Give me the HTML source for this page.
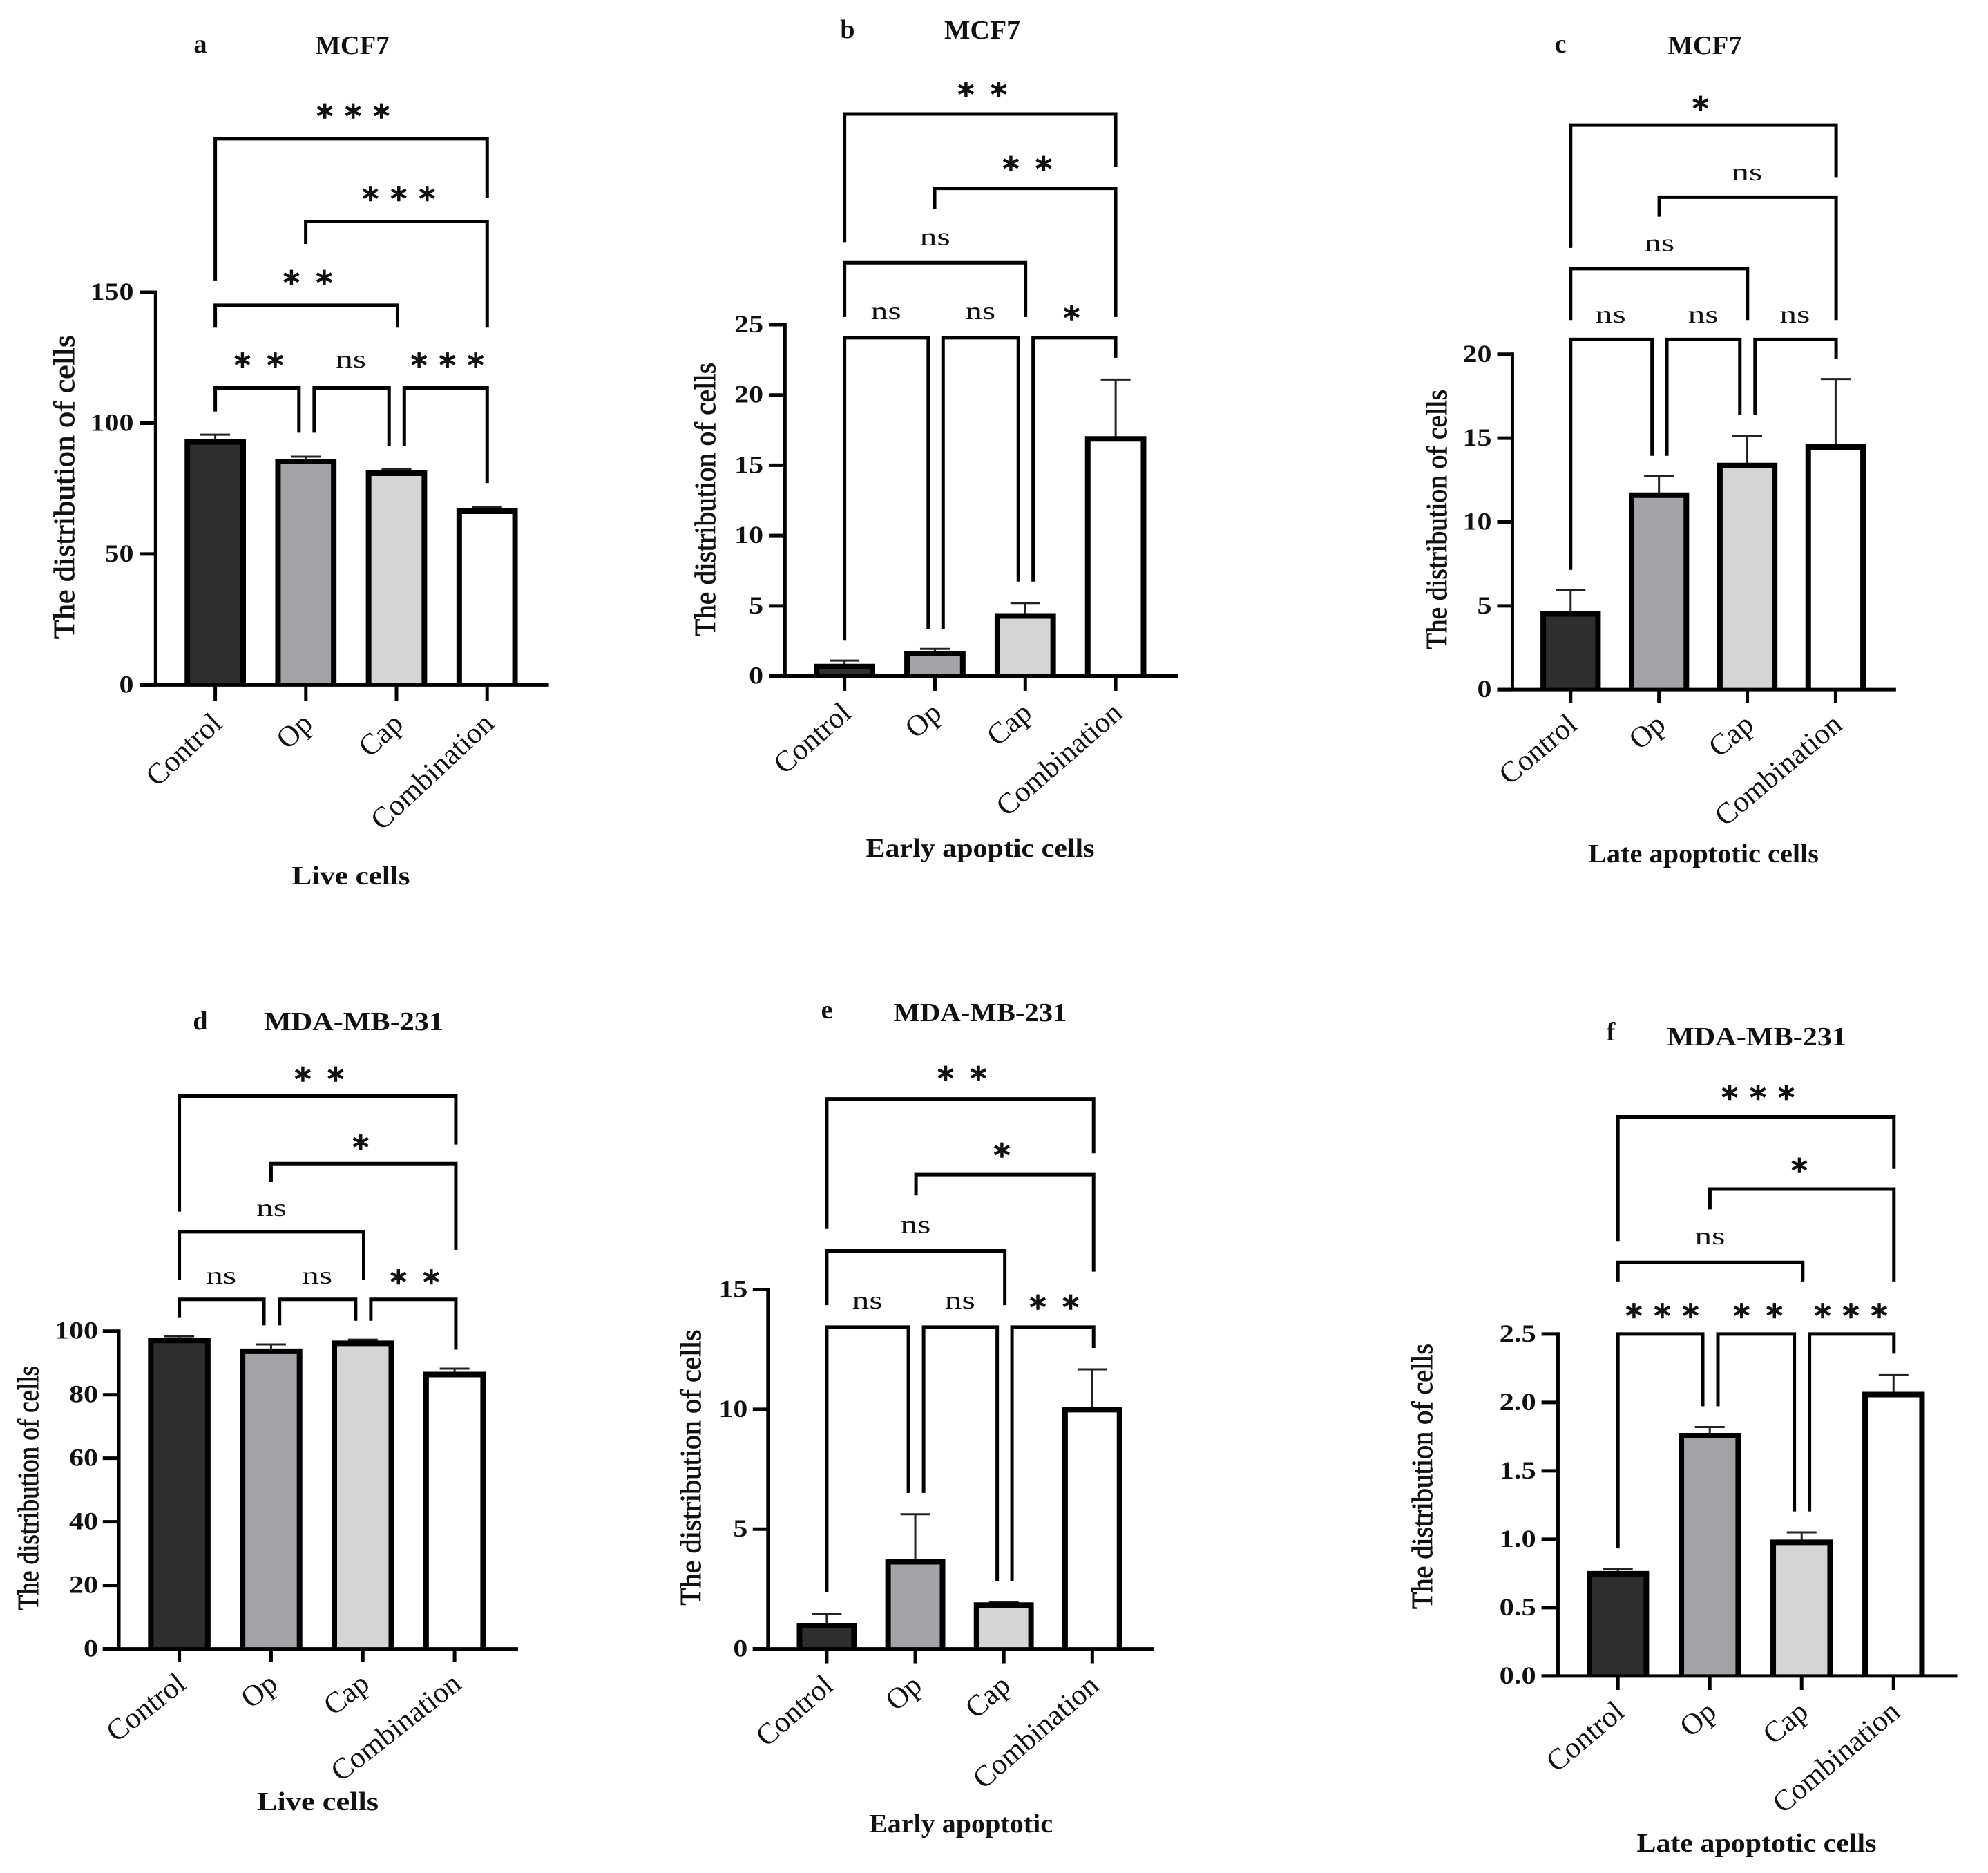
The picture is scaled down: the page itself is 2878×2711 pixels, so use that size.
<!DOCTYPE html>
<html lang="en">
<head>
<meta charset="utf-8">
<title>Distribution of cells: MCF7 and MDA-MB-231</title>
<style>
html,body{margin:0;padding:0;background:#fff;}
svg{display:block;}
text{font-family:"Liberation Serif","DejaVu Serif",serif;fill:#111;}
.head{font-weight:bold;font-size:38px;}
.xt{font-weight:bold;font-size:38px;}
.yt{font-size:42px;stroke:#111;stroke-width:1px;}
</style>
</head>
<body>
<svg id="figure" xmlns="http://www.w3.org/2000/svg" width="2878" height="2711" viewBox="0 0 2878 2711">
<rect width="2878" height="2711" fill="#ffffff"/>

<g id="panel-a">
<text class="head" x="290" y="76" text-anchor="middle">a</text>
<text class="head" x="510" y="78" text-anchor="middle" textLength="107" lengthAdjust="spacingAndGlyphs">MCF7</text>
<text class="xt" x="508" y="1280" text-anchor="middle" textLength="171" lengthAdjust="spacingAndGlyphs">Live cells</text>
<text class="yt" transform="translate(107 705) rotate(-90)" text-anchor="middle" textLength="440" lengthAdjust="spacingAndGlyphs">The distribution of cells</text>
</g>

<g id="panel-b">
<text class="head" x="1227" y="55" text-anchor="middle">b</text>
<text class="head" x="1422" y="56" text-anchor="middle" textLength="110" lengthAdjust="spacingAndGlyphs">MCF7</text>
<text class="xt" x="1419" y="1240" text-anchor="middle" textLength="331" lengthAdjust="spacingAndGlyphs">Early apoptic cells</text>
<text class="yt" transform="translate(1035 723) rotate(-90)" text-anchor="middle" textLength="396" lengthAdjust="spacingAndGlyphs">The distribution of cells</text>
</g>

<g id="panel-c">
<text class="head" x="2259" y="76" text-anchor="middle">c</text>
<text class="head" x="2468" y="78" text-anchor="middle" textLength="107" lengthAdjust="spacingAndGlyphs">MCF7</text>
<text class="xt" x="2466" y="1248" text-anchor="middle" textLength="334" lengthAdjust="spacingAndGlyphs">Late apoptotic cells</text>
<text class="yt" transform="translate(2094 752) rotate(-90)" text-anchor="middle" textLength="376" lengthAdjust="spacingAndGlyphs">The distribution of cells</text>
</g>

<g id="panel-d">
<text class="head" x="290" y="1490" text-anchor="middle">d</text>
<text class="head" x="512" y="1491" text-anchor="middle" textLength="260" lengthAdjust="spacingAndGlyphs">MDA-MB-231</text>
<text class="xt" x="460" y="2620" text-anchor="middle" textLength="176" lengthAdjust="spacingAndGlyphs">Live cells</text>
<text class="yt" transform="translate(55 2154) rotate(-90)" text-anchor="middle" textLength="354" lengthAdjust="spacingAndGlyphs">The distribution of cells</text>
</g>

<g id="panel-e">
<text class="head" x="1197" y="1474" text-anchor="middle">e</text>
<text class="head" x="1419" y="1478" text-anchor="middle" textLength="251" lengthAdjust="spacingAndGlyphs">MDA-MB-231</text>
<text class="xt" x="1391" y="2652" text-anchor="middle" textLength="266" lengthAdjust="spacingAndGlyphs">Early apoptotic</text>
<text class="yt" transform="translate(1014 2124) rotate(-90)" text-anchor="middle" textLength="399" lengthAdjust="spacingAndGlyphs">The distribution of cells</text>
</g>

<g id="panel-f">
<text class="head" x="2332" y="1506" text-anchor="middle">f</text>
<text class="head" x="2543" y="1513" text-anchor="middle" textLength="260" lengthAdjust="spacingAndGlyphs">MDA-MB-231</text>
<text class="xt" x="2543" y="2680" text-anchor="middle" textLength="347" lengthAdjust="spacingAndGlyphs">Late apoptotic cells</text>
<text class="yt" transform="translate(2073 2137) rotate(-90)" text-anchor="middle" textLength="384" lengthAdjust="spacingAndGlyphs">The distribution of cells</text>
</g>
</svg>

<script>
// ---- chart data ----
const categories = ['Control', 'Op', 'Cap', 'Combination'];

const valuesA = [93.5, 86, 81.5, 67];
const errorTopsA = [95.6, 87.2, 82.5, 68];
const tickLabelsA = ['0', '50', '100', '150'];

const valuesB = [0.8, 1.72, 4.4, 17];
const errorTopsB = [1.1, 1.93, 5.2, 21.1];
const tickLabelsB = ['0', '5', '10', '15', '20', '25'];

const valuesC = [4.62, 11.7, 13.47, 14.57];
const errorTopsC = [5.93, 12.73, 15.13, 18.52];
const tickLabelsC = ['0', '5', '10', '15', '20'];

const valuesD = [97.6, 94.2, 96.7, 86.9];
const errorTopsD = [98.4, 95.8, 97.3, 88.2];
const tickLabelsD = ['0', '20', '40', '60', '80', '100'];

const valuesE = [1.04, 3.71, 1.9, 10.06];
const errorTopsE = [1.45, 5.62, 1.95, 11.67];
const tickLabelsE = ['0', '5', '10', '15'];

const valuesF = [0.76, 1.77, 0.99, 2.07];
const errorTopsF = [0.78, 1.82, 1.05, 2.2];
const tickLabelsF = ['0.0', '0.5', '1.0', '1.5', '2.0', '2.5'];

const barFills = ['#2e2e2e', '#a3a2a7', '#d5d5d5', '#ffffff'];

// ---- panel frames and significance annotations (layout, not data) ----
// Annotation geometry: [left x, right x, top y, left drop y, right drop y, label, label x, label y]
const panels = [
  {id:'a', values:valuesA, errs:errorTopsA, ticks:tickLabelsA, ox:0, oy:0, sx:.6122, sy:.8546, labelAngle:43,
   axisX:368, top:495, base:1160, xFrom:330, xTo:1298, x0:509, step:214.3, tickEnd:1187, barW:140, tickRight:316,
   brackets:[[509,1152,235,475,335,'***',835,190],[723,1152,375,413,555,'***',943,330],[509,940,517,555,555,'**',728,472],
             [509,707,657,697,733,'**',612,612],[743,920,657,733,755,'ns',830,612],[956,1152,657,755,818,'***',1058,612]]},
  {id:'b', values:valuesB, errs:errorTopsB, ticks:tickLabelsB, ox:960, oy:0, sx:.6122, sy:.8546, labelAngle:41,
   axisX:288, top:550, base:1145, xFrom:250, xTo:1217, x0:429, step:213.7, tickEnd:1170, barW:140, tickRight:237,
   brackets:[[429,1070,193,410,283,'**',755,153],[642,1070,319,354,537,'**',861,279],[429,857,445,537,537,'ns',643,404],
             [429,627,572,1085,1065,'ns',527,530],[662,840,572,1065,985,'ns',750,530],[875,1070,572,985,606,'*',966,532]]},
  {id:'c', values:valuesC, errs:errorTopsC, ticks:tickLabelsC, ox:1920, oy:0, sx:.611, sy:.8546, labelAngle:40,
   axisX:441, top:600, base:1168, xFrom:405, xTo:1350, x0:579, step:209.3, tickEnd:1190, barW:138, tickRight:392,
   brackets:[[579,1208,212,420,300,'*',887,177],[789,1208,334,367,542,'ns',997,295],[579,998,455,542,542,'ns',789,415],
             [579,772,575,965,772,'ns',674,536],[807,980,575,772,703,'ns',893,536],[1016,1208,575,703,608,'ns',1110,536]]},
  {id:'d', values:valuesD, errs:errorTopsD, ticks:tickLabelsD, ox:0, oy:1400, sx:.6122, sy:.8361, labelAngle:38,
   axisX:281, top:630, base:1180, xFrom:243, xTo:1225, x0:424, step:217, tickEnd:1203, barW:143, tickRight:232,
   brackets:[[424,1078,223,423,307,'**',755,187],[641,1078,340,372,489,'*',853,305],[424,860,458,541,541,'ns',642,420],
             [424,624,575,606,620,'ns',523,537],[661,841,575,620,612,'ns',750,537],[877,1078,575,612,662,'**',981,538]]},
  {id:'e', values:valuesE, errs:errorTopsE, ticks:tickLabelsE, ox:960, oy:1400, sx:.6122, sy:.8361, labelAngle:41,
   axisX:248, top:558, base:1180, xFrom:212, xTo:1160, x0:387, step:209.3, tickEnd:1205, barW:137, tickRight:200,
   brackets:[[387,1018,228,453,322,'**',707,186],[598,1018,359,395,527,'*',801,319],[387,808,491,585,585,'ns',597,449],
             [387,580,623,1082,910,'ns',483,580],[616,790,623,910,1062,'ns',702,580],[825,1018,623,1062,659,'**',925,582]]},
  {id:'f', values:valuesF, errs:errorTopsF, ticks:tickLabelsF, ox:1920, oy:1400, sx:.611, sy:.8361, labelAngle:40,
   axisX:549, top:635, base:1227, xFrom:510, xTo:1495, x0:691, step:217.7, tickEnd:1251, barW:143, tickRight:497,
   brackets:[[691,1345,259,474,349,'***',1023,219],[909,1345,384,419,544,'*',1121,345],[691,1129,511,544,544,'ns',909,469],
             [691,892,635,1006,760,'***',796,597],[928,1109,635,760,942,'**',1023,597],[1145,1345,635,942,669,'***',1243,597]]}
];

const NS = 'http://www.w3.org/2000/svg';
function svgEl(tag, attrs, parent) {
  const node = document.createElementNS(NS, tag);
  for (const k in attrs) node.setAttribute(k, attrs[k]);
  parent.appendChild(node);
  return node;
}

panels.forEach(function (p) {
  const g = document.getElementById('panel-' + p.id);
  const X = function (c) { return p.ox + c * p.sx; };
  const Y = function (c) { return p.oy + c * p.sy; };
  const yMax = Number(p.ticks[p.ticks.length - 1]);
  const xScale = function (i) { return X(p.x0 + i * p.step); };
  const yScale = function (v) { return Y(p.base) - (v / yMax) * (Y(p.base) - Y(p.top)); };

  // bars and error bars
  categories.forEach(function (cat, i) {
    const cx = xScale(i);
    const w = p.barW * p.sx + 3;
    const sw = 8;
    const yTop = yScale(p.values[i]);
    const capY = yScale(p.errs[i]);
    const edgeY = yTop + 2.5;
    const left = cx - w / 2 + sw / 2;
    const right = cx + w / 2 - sw / 2;

    const stem = svgEl('line', {x1:cx, x2:cx, y1:capY, y2:yTop, stroke:'#222', 'stroke-width':3}, g);
    
    

    const cap = svgEl('line', {x1:cx - 21.5, x2:cx + 21.5, y1:capY, y2:capY, stroke:'#222', 'stroke-width':3}, g);
    
    

    const bar = svgEl('rect', {x:left, y:edgeY, width:right - left, height:Y(p.base) - edgeY, fill:barFills[i]}, g);
    
    

    const outline = svgEl('path', {d:'M' + left + ' ' + Y(p.base) + 'V' + edgeY + 'H' + right + 'V' + Y(p.base),
      fill:'none', stroke:'#000', 'stroke-width':sw}, g);
    
    

    const tick = svgEl('line', {x1:cx, x2:cx, y1:Y(p.base), y2:Y(p.tickEnd), stroke:'#000', 'stroke-width':5}, g);
    
    

    const label = svgEl('text', {x:0, y:0, 'text-anchor':'end', 'font-size':43, fill:'#2a2a2a',
      transform:'translate(' + (cx + 12) + ' ' + (Y(p.tickEnd) + 36) + ') rotate(' + (-p.labelAngle) + ')'}, g);
    label.textContent = cat;
    
    
  });

  // axes
  const yAxis = svgEl('line', {x1:X(p.axisX), x2:X(p.axisX), y1:Y(p.top) - 2.5, y2:Y(p.base), stroke:'#000', 'stroke-width':5}, g);
  
  

  const xAxis = svgEl('line', {x1:X(p.xFrom), x2:X(p.xTo), y1:Y(p.base), y2:Y(p.base), stroke:'#000', 'stroke-width':5}, g);
  
  

  p.ticks.forEach(function (t) {
    const y = yScale(Number(t));
    const tk = svgEl('line', {x1:X(p.xFrom), x2:X(p.axisX), y1:y, y2:y, stroke:'#000', 'stroke-width':5}, g);
    
    

    const labelWidth = t.replace('.', '').length * 21 + (t.indexOf('.') >= 0 ? 11 : 0);
    const lab = svgEl('text', {x:X(p.tickRight), y:y + 11, 'text-anchor':'end', 'font-size':36, 'font-weight':'bold',
      textLength:labelWidth, lengthAdjust:'spacingAndGlyphs'}, g);
    lab.textContent = t;
    
    
  });

  // significance brackets
  p.brackets.forEach(function (b, n) {
    const d = 'M' + X(b[0]) + ' ' + Y(b[3]) + 'V' + Y(b[2]) + 'H' + X(b[1]) + 'V' + Y(b[4]);
    const path = svgEl('path', {d:d, fill:'none', stroke:'#000', 'stroke-width':5, 'stroke-linejoin':'miter'}, g);
    
    

    const cx = X(b[6]);
    const cy = Y(b[7]);
    let t;
    if (b[5] === 'ns') {
      t = svgEl('text', {x:cx, y:cy + 9, 'text-anchor':'middle', 'font-size':36, fill:'#333',
        textLength:44, lengthAdjust:'spacingAndGlyphs'}, g);
    } else {
      const count = b[5].length;
      const gap = count === 3 ? 41 : 47.5;
      const xs = [];
      for (let k = 0; k < count; k++) xs.push(cx + (k - (count - 1) / 2) * gap);
      t = svgEl('text', {x:xs.join(' '), y:cy + 22, 'text-anchor':'middle', 'font-size':46, 'font-weight':'bold',
        style:'font-family:"DejaVu Sans",sans-serif;stroke:#000;stroke-width:.6px', fill:'#000'}, g);
    }
    t.textContent = b[5];
    
    
  });
});
</script>
</body>
</html>
